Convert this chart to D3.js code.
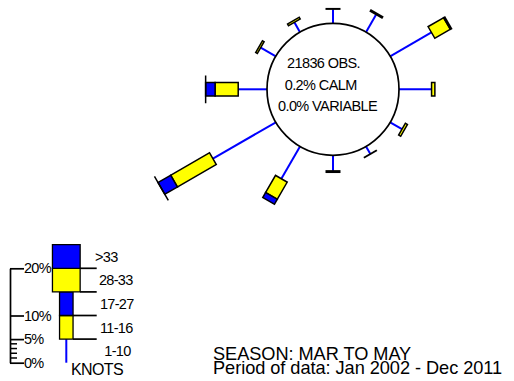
<!DOCTYPE html>
<html>
<head>
<meta charset="utf-8">
<script src="https://cdn.jsdelivr.net/npm/d3@7"></script>
<style>
  body { margin: 0; background: #fff; }
  svg { display: block; }
  text { font-family: "Liberation Sans", Arial, sans-serif; fill: #000; }
</style>
</head>
<body>
<svg id="chart" width="514" height="381"></svg>
<script>
// Wind directions (degrees clockwise from north), one spoke each
const directions = [0, 30, 60, 90, 120, 150, 180, 210, 240, 270, 300, 330];
// Speed classes in knots
const speedClasses = ["1-10", "11-16", "17-27", "28-33", ">33"];
// Frequency (%) of each speed class per direction; null = class not reached
const knots1to10  = [3.0, 4.3, 10.1, 6.9, 2.9, 1.8, 3.3, 7.9, 15.4, 6.1, 3.7, 2.4];
const knots11to16 = [0.1, 0.3, 3.8, 0.7, 0.5, 0.1, 0.3, 4.2, 9.5, 4.9, 0.4, 0.4];
const knots17to27 = [null, null, 0.3, null, null, null, null, 1.2, 3.1, 2.0, null, null];
const knots28to33 = [null, null, null, null, null, null, null, null, 0.0, 0.0, null, null];
const knotsOver33 = [null, null, null, null, null, null, null, null, null, null, null, null];

// Legend scale
const legendTicks = [0, 5, 10, 20];
const legendMinorTicks = [1, 2, 3, 4];
const legendStep = 5; // each legend block spans 5 %

const summaryLines = ["21836 OBS.", "0.2% CALM", "0.0% VARIABLE"];
const footerLines = ["SEASON: MAR TO MAY", "Period of data: Jan 2002 - Dec 2011"];

const BLUE = "#0000ff", YELLOW = "#ffff00";
const NARROW = 13.5, WIDE = 27.7;
const classStyle = [
  { stem: true },
  { fill: YELLOW, w: NARROW },
  { fill: BLUE, w: NARROW },
  { fill: YELLOW, w: WIDE },
  { fill: BLUE, w: WIDE }
];
const series = [knots1to10, knots11to16, knots17to27, knots28to33, knotsOver33];

const svg = d3.select("#chart");

// pixels per percent, shared by rose and legend
const len = d3.scaleLinear().domain([0, 1]).range([0, 4.72]);

function boxPath(w, r0, r1) {
  const p = d3.path();
  p.moveTo(-w / 2, -r0);
  p.lineTo(w / 2, -r0);
  p.lineTo(w / 2, -r1);
  p.lineTo(-w / 2, -r1);
  p.closePath();
  return p.toString();
}

// ---- Wind rose ----
const cx = 333, cy = 89.3, R = 66;
const rose = svg.append("g").attr("transform", `translate(${cx},${cy})`);

directions.forEach((dir, i) => {
  const g = rose.append("g").attr("transform", `rotate(${dir})`);
  let r0 = R + len(series[0][i]);
  g.append("line")
    .attr("x1", 0).attr("y1", -R)
    .attr("x2", 0).attr("y2", -r0)
    .attr("stroke", BLUE).attr("stroke-width", 2);
  for (let c = 1; c < series.length; c++) {
    const v = series[c][i];
    if (v == null) continue;
    const r1 = r0 + len(v);
    g.append("path")
      .attr("d", boxPath(classStyle[c].w, r0, r1))
      .attr("fill", classStyle[c].fill)
      .attr("stroke", "#000").attr("stroke-width", 1.5);
    r0 = r1;
  }
});

rose.append("circle").attr("r", R)
  .attr("fill", "#fff").attr("stroke", "#000").attr("stroke-width", 1.7);

const summaryX = [287, 284.7, 278];
const summaryY = [68.3, 90, 111];
summaryLines.forEach((t, i) => {
  svg.append("text")
    .attr("x", summaryX[i]).attr("y", summaryY[i])
    .attr("font-size", 14.5).attr("letter-spacing", -0.6)
    .text(t);
});

// ---- Legend ----
const base = 362.7;
const ly = d3.scaleLinear().domain([0, 20]).range([base, base - len(20)]);

const axis = d3.axisRight(ly)
  .tickValues(legendTicks)
  .tickSize(14).tickSizeOuter(0).tickPadding(0)
  .tickFormat(d => d + "%");
const axG = svg.append("g").attr("transform", "translate(10,0)").call(axis);
axG.select(".domain").attr("stroke", "#000").attr("stroke-width", 1.7);
axG.selectAll(".tick line").attr("stroke", "#000").attr("stroke-width", 1.7);
axG.selectAll(".tick text")
  .attr("font-family", '"Liberation Sans", Arial, sans-serif')
  .attr("font-size", 14.5).attr("letter-spacing", -0.7).attr("fill", "#000");
axG.selectAll(".minor").data(legendMinorTicks).enter().append("line")
  .attr("x1", 0).attr("x2", 7)
  .attr("y1", d => ly(d)).attr("y2", d => ly(d))
  .attr("stroke", "#000").attr("stroke-width", 1.5);

const lx = 66.3;
const lg = svg.append("g").attr("transform", `translate(${lx},${base})`);
lg.append("line")
  .attr("x1", 0).attr("y1", 0).attr("x2", 0).attr("y2", -len(legendStep))
  .attr("stroke", BLUE).attr("stroke-width", 2);
for (let c = 1; c < speedClasses.length; c++) {
  lg.append("path")
    .attr("d", boxPath(classStyle[c].w, len(c * legendStep), len((c + 1) * legendStep)))
    .attr("fill", classStyle[c].fill)
    .attr("stroke", "#000").attr("stroke-width", 1.3);
}
// separator lines at the class boundaries
for (let c = 1; c < speedClasses.length; c++) {
  lg.append("line")
    .attr("x1", classStyle[c].w / 2).attr("x2", 30.4)
    .attr("y1", -len(c * legendStep)).attr("y2", -len(c * legendStep))
    .attr("stroke", "#000").attr("stroke-width", 1.7);
}
const legendLabelX = [104.3, 100, 100, 99, 95];
speedClasses.forEach((s, c) => {
  svg.append("text")
    .attr("x", legendLabelX[c])
    .attr("y", base - len((c + 0.5) * legendStep) + 5.3)
    .attr("font-size", 14.5).attr("letter-spacing", -0.7)
    .text(s);
});
svg.append("text")
  .attr("x", 71).attr("y", 375)
  .attr("font-size", 16).attr("letter-spacing", -0.6)
  .text("KNOTS");

// ---- Footer ----
const footerY = [360.3, 374];
footerLines.forEach((t, i) => {
  svg.append("text")
    .attr("x", 213).attr("y", footerY[i])
    .attr("font-size", 18.2).attr("letter-spacing", -0.05)
    .text(t);
});
</script>
</body>
</html>
